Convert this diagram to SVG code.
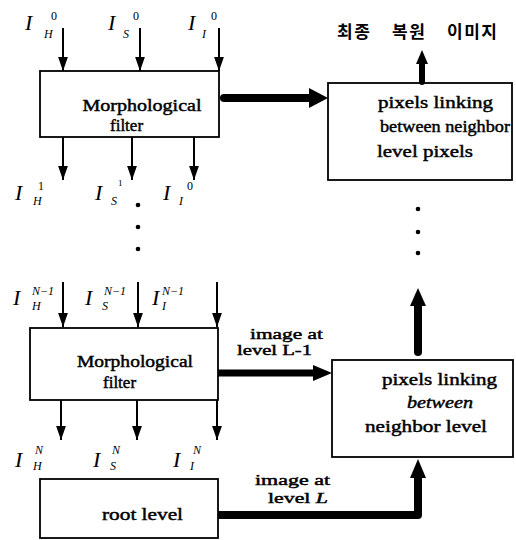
<svg xmlns="http://www.w3.org/2000/svg" width="516" height="540" viewBox="0 0 516 540">
<defs>
<marker id="ah" markerUnits="userSpaceOnUse" markerWidth="14" markerHeight="20" viewBox="0 0 20 14" refX="20" refY="7" orient="auto">
<path d="M0,0 L20,7 L0,14 z" fill="#000"/>
</marker>
</defs>
<style>
.box{fill:#fff;stroke:#000;stroke-width:1.8}
.t{font-family:"Liberation Serif","DejaVu Serif",serif;fill:#000;stroke:#000;stroke-width:0.45}
.m{font-family:"Liberation Serif","DejaVu Serif",serif;font-style:italic;fill:#000}
.I{font-size:22px}
.s{font-size:12px}
.n{font-style:normal}
.thin{stroke:#000;stroke-width:2;fill:none;marker-end:url(#ah)}
.thick{stroke:#000;fill:none}
.kr{font-family:"Noto Sans CJK KR","Noto Sans",sans-serif;font-weight:bold;font-size:17px;fill:#000;letter-spacing:1.5px}
</style>
<rect width="516" height="540" fill="#fff"/>

<g id="filter-top">
<rect class="box" x="40" y="71" width="179" height="66"/>
<text class="t" x="142" y="111" font-size="17" text-anchor="middle" textLength="119" lengthAdjust="spacingAndGlyphs">Morphological</text>
<text class="t" x="110" y="131" font-size="17">filter</text>
</g>

<g id="linking-top">
<rect class="box" x="328" y="83" width="184" height="97"/>
<text class="t" x="378" y="108" font-size="17" textLength="115" lengthAdjust="spacingAndGlyphs">pixels linking</text>
<text class="t" x="380" y="132" font-size="17" textLength="130" lengthAdjust="spacingAndGlyphs">between neighbor</text>
<text class="t" x="377" y="157" font-size="17" textLength="96" lengthAdjust="spacingAndGlyphs">level pixels</text>
</g>

<g id="title">
<text class="kr" y="38"><tspan x="337">최종</tspan> <tspan x="392">복원</tspan> <tspan x="447">이미지</tspan></text>
</g>

<g id="filter-bottom">
<rect class="box" x="30" y="328" width="188" height="72"/>
<text class="t" x="135" y="367" font-size="17" text-anchor="middle" textLength="116" lengthAdjust="spacingAndGlyphs">Morphological</text>
<text class="t" x="103" y="388" font-size="17">filter</text>
</g>

<g id="linking-bottom">
<rect class="box" x="332" y="360" width="181" height="97"/>
<text class="t" x="382" y="385" font-size="17" textLength="115" lengthAdjust="spacingAndGlyphs">pixels linking</text>
<text class="t" x="407" y="408" font-size="17" font-style="italic" textLength="66" lengthAdjust="spacingAndGlyphs">between</text>
<text class="t" x="365" y="432" font-size="17" textLength="122" lengthAdjust="spacingAndGlyphs">neighbor level</text>
</g>

<g id="root">
<rect class="box" x="40" y="479" width="178" height="59"/>
<text class="t" x="102" y="520" font-size="17" textLength="81" lengthAdjust="spacingAndGlyphs">root level</text>
</g>

<g id="labels">
<text class="m I" x="25" y="30">I</text><text class="m s" x="44" y="38">H</text><text class="m s n" x="51" y="20">0</text>
<text class="m I" x="108" y="30">I</text><text class="m s" x="123" y="38">S</text><text class="m s n" x="133" y="20">0</text>
<text class="m I" x="188" y="30">I</text><text class="m s" x="202" y="38">I</text><text class="m s n" x="211" y="20">0</text>

<text class="m I" x="15" y="200">I</text><text class="m s" x="33" y="205">H</text><text class="m s n" x="38" y="190">1</text>
<text class="m I" x="95" y="200">I</text><text class="m s" x="111" y="205">S</text><text class="m n" x="118" y="186" font-size="9">1</text>
<text class="m I" x="163" y="200">I</text><text class="m s" x="179" y="205">I</text><text class="m s n" x="187" y="190">0</text>

<text class="m I" x="13" y="305">I</text><text class="m s" x="32" y="310">H</text><text class="m s" x="32" y="295">N−1</text>
<text class="m I" x="85" y="305">I</text><text class="m s" x="102" y="310">S</text><text class="m s" x="104" y="295">N−1</text>
<text class="m I" x="152" y="305">I</text><text class="m s" x="162" y="310">I</text><text class="m s" x="162" y="295">N−1</text>

<text class="m I" x="15" y="467">I</text><text class="m s" x="33" y="470">H</text><text class="m s" x="35" y="454">N</text>
<text class="m I" x="93" y="467">I</text><text class="m s" x="110" y="470">S</text><text class="m s" x="112" y="454">N</text>
<text class="m I" x="173" y="467">I</text><text class="m s" x="190" y="470">I</text><text class="m s" x="193" y="454">N</text>

<text class="t" x="250" y="339" font-size="14" textLength="73" lengthAdjust="spacingAndGlyphs">image at</text>
<text class="t" x="237" y="355" font-size="14" textLength="75" lengthAdjust="spacingAndGlyphs">level L-1</text>
<text class="t" x="255" y="485" font-size="14" textLength="75" lengthAdjust="spacingAndGlyphs">image at</text>
<text class="t" x="268" y="503" font-size="14" textLength="60" lengthAdjust="spacingAndGlyphs">level <tspan font-style="italic">L</tspan></text>
</g>

<g id="connectors">
<line class="thin" x1="63" y1="28" x2="63" y2="71"/>
<line class="thin" x1="140" y1="28" x2="140" y2="71"/>
<line class="thin" x1="219" y1="28" x2="219" y2="71"/>
<line class="thin" x1="63" y1="137" x2="63" y2="180"/>
<line class="thin" x1="132" y1="137" x2="132" y2="180"/>
<line class="thin" x1="194" y1="137" x2="194" y2="180"/>
<line class="thin" x1="63" y1="282" x2="63" y2="327"/>
<line class="thin" x1="138" y1="282" x2="138" y2="327"/>
<line class="thin" x1="217" y1="282" x2="217" y2="327"/>
<line class="thin" x1="61" y1="400" x2="61" y2="440"/>
<line class="thin" x1="137" y1="400" x2="137" y2="440"/>
<line class="thin" x1="217" y1="400" x2="217" y2="440"/>

<line class="thick" x1="224" y1="98" x2="312" y2="98" stroke-width="8" stroke-linecap="round"/>
<polygon points="309,88 328,98 309,108"/>
<line class="thick" x1="422" y1="82" x2="422" y2="62" stroke-width="6" stroke-linecap="round"/>
<polygon points="416,64 422,50 428,64"/>
<line class="thick" x1="418" y1="352" x2="418" y2="302" stroke-width="8" stroke-linecap="round"/>
<polygon points="410,306 418,288 426,306"/>
<line class="thick" x1="218" y1="373" x2="316" y2="373" stroke-width="7"/>
<polygon points="313,365 332,373 313,381"/>
<path class="thick" d="M218,515 H418 V476" stroke-width="8" stroke-linejoin="round"/>
<polygon points="410,478 418,459 426,478"/>
</g>

<g id="dots">
<circle cx="138" cy="205" r="2.3"/><circle cx="138" cy="227" r="2.3"/><circle cx="138" cy="249" r="2.3"/>
<circle cx="418" cy="209" r="2.3"/><circle cx="418" cy="232" r="2.3"/><circle cx="418" cy="253" r="2.3"/>
</g>
</svg>
